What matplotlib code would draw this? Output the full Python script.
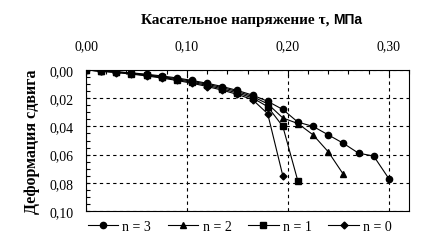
import matplotlib.pyplot as plt
from matplotlib.ticker import MultipleLocator, FuncFormatter

tau = [0.015 * i for i in range(21)]

n3 = [0, 0.0006, 0.0012, 0.002, 0.003, 0.0042, 0.0056, 0.0074, 0.0094, 0.0117, 0.0145,
      0.0178, 0.0222, 0.028, 0.037, 0.040, 0.046, 0.052, 0.059, 0.061, 0.077]
n2 = [0, 0.0007, 0.0014, 0.0023, 0.0034, 0.0047, 0.0062, 0.008, 0.0101, 0.0125, 0.0153,
      0.0188, 0.024, 0.034, 0.038, 0.046, 0.058, 0.074]
n1 = [0, 0.0008, 0.0016, 0.0026, 0.0038, 0.0052, 0.0068, 0.0087, 0.0109, 0.0134, 0.0163,
      0.0198, 0.026, 0.040, 0.079]
n0 = [0, 0.0009, 0.0018, 0.0029, 0.0042, 0.0057, 0.0074, 0.0094, 0.0117, 0.0143, 0.0173,
      0.021, 0.031, 0.075]

series = [("n = 3", n3, "o", 4.5), ("n = 2", n2, "^", 5), ("n = 1", n1, "s", 4.5), ("n = 0", n0, "D", 3.5)]

serif = "Liberation Serif"

fig = plt.figure(figsize=(4.4, 2.51), dpi=100)
ax = fig.add_axes([0.1955, 0.1554, 0.734, 0.5617])

for label, vals, m, ms in series:
    ax.plot(tau[:len(vals)], vals, color="black", lw=0.8, marker=m, ms=ms, label=label)

ax.set_xlim(0, 0.32)
ax.set_ylim(0.10, 0)
ax.xaxis.set_major_locator(MultipleLocator(0.1))
ax.xaxis.set_minor_locator(MultipleLocator(0.02))
ax.yaxis.set_major_locator(MultipleLocator(0.02))
ax.yaxis.set_minor_locator(MultipleLocator(0.005))
fmt = FuncFormatter(lambda v, p: f"{v:.2f}".replace(".", ","))
ax.xaxis.set_major_formatter(fmt)
ax.yaxis.set_major_formatter(fmt)
ax.xaxis.tick_top()
ax.tick_params(axis="x", which="both", direction="in", top=True, bottom=False,
               labeltop=True, labelbottom=False, length=4, width=0.8, pad=13)
ax.tick_params(axis="x", which="minor", length=3)
ax.tick_params(axis="y", which="both", direction="in", length=3, width=0.8, pad=9)
for t in ax.get_xticklabels() + ax.get_yticklabels():
    t.set_fontfamily(serif)
    t.set_fontsize(10)

ax.grid(True, which="major", color="black", linestyle=(0, (3, 3)), lw=0.8)
for s in ax.spines.values():
    s.set_linewidth(0.8)

# title: serif part + sans "МПа"
t1 = fig.text(0.3, 0.92, "Касательное напряжение τ, ", ha="left", va="center",
              fontfamily=serif, fontweight="bold", fontsize=11)
t2 = fig.text(0, 0.92, "МПа", ha="left", va="center",
              fontfamily="Liberation Sans", fontweight="bold", fontsize=10)
fig.canvas.draw()
r = fig.canvas.get_renderer()
w1 = t1.get_window_extent(r).width / fig.bbox.width
w2 = t2.get_window_extent(r).width / fig.bbox.width
x0 = 0.572 - (w1 + w2) / 2
t1.set_x(x0)
t2.set_x(x0 + w1)

fig.text(0.072, 0.435, "Деформация сдвига", ha="center", va="center", rotation=90,
         fontfamily=serif, fontweight="bold", fontsize=11.5)

leg = fig.legend(loc="center", bbox_to_anchor=(0.545, 0.095), ncol=4, frameon=False,
                 prop={"family": serif, "size": 10}, handlelength=2.2, columnspacing=1.2,
                 handletextpad=0.3)

fig.savefig("out.png", dpi=100)
